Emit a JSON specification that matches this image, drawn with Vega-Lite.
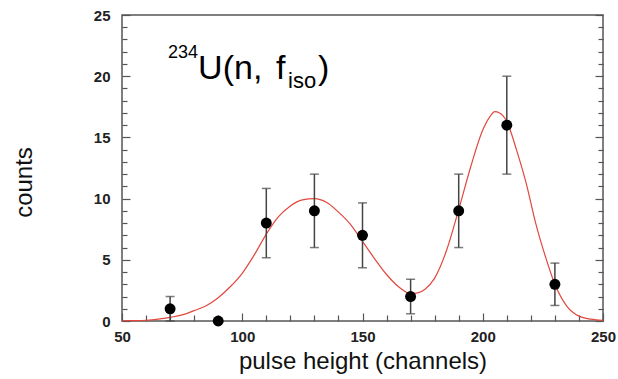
{
  "$schema": "https://vega.github.io/schema/vega-lite/v6.json",
  "width": 481,
  "height": 306,
  "autosize": {"type": "none"},
  "padding": {"left": 122, "top": 15, "right": 15, "bottom": 58},
  "background": "white",
  "config": {
    "view": {"stroke": "#555555", "strokeWidth": 1.5},
    "font": "Liberation Sans",
    "axis": {"domain": false, "grid": false, "tickColor": "#555555", "tickWidth": 1.2, "labelColor": "#222222", "titleColor": "#111111", "labelFont": "Liberation Sans", "titleFont": "Liberation Sans", "titleFontWeight": "normal", "labelFontSize": 15}
  },
  "datasets": {
    "pts": [
      {"ch": 70, "counts": 1, "lo": 0, "hi": 2},
      {"ch": 90, "counts": 0, "lo": 0, "hi": 0},
      {"ch": 110, "counts": 8, "lo": 5.17, "hi": 10.83},
      {"ch": 130, "counts": 9, "lo": 6, "hi": 12},
      {"ch": 150, "counts": 7, "lo": 4.35, "hi": 9.65},
      {"ch": 170, "counts": 2, "lo": 0.59, "hi": 3.41},
      {"ch": 190, "counts": 9, "lo": 6, "hi": 12},
      {"ch": 210, "counts": 16, "lo": 12, "hi": 20},
      {"ch": 230, "counts": 3, "lo": 1.27, "hi": 4.73}
    ],
    "fit": [
      {"ch": 50, "counts": 0.02}, {"ch": 55, "counts": 0.03}, {"ch": 60, "counts": 0.06},
      {"ch": 65, "counts": 0.15}, {"ch": 70, "counts": 0.3}, {"ch": 75, "counts": 0.5},
      {"ch": 80, "counts": 0.85}, {"ch": 85, "counts": 1.25}, {"ch": 90, "counts": 1.9},
      {"ch": 95, "counts": 2.8}, {"ch": 100, "counts": 3.9}, {"ch": 105, "counts": 5.4},
      {"ch": 110, "counts": 7.1}, {"ch": 115, "counts": 8.5}, {"ch": 120, "counts": 9.4},
      {"ch": 125, "counts": 9.9}, {"ch": 130, "counts": 10.0}, {"ch": 135, "counts": 9.7},
      {"ch": 140, "counts": 8.9}, {"ch": 145, "counts": 7.9}, {"ch": 150, "counts": 6.5},
      {"ch": 155, "counts": 5.1}, {"ch": 160, "counts": 3.8}, {"ch": 165, "counts": 2.8},
      {"ch": 170, "counts": 2.25}, {"ch": 173, "counts": 2.3}, {"ch": 176, "counts": 2.6},
      {"ch": 180, "counts": 3.5}, {"ch": 185, "counts": 5.8}, {"ch": 190, "counts": 9.1},
      {"ch": 195, "counts": 12.6}, {"ch": 200, "counts": 15.6}, {"ch": 203, "counts": 16.7},
      {"ch": 205, "counts": 17.1}, {"ch": 207, "counts": 17.0}, {"ch": 210, "counts": 16.3},
      {"ch": 214, "counts": 14.0}, {"ch": 218, "counts": 11.3}, {"ch": 222, "counts": 8.0},
      {"ch": 226, "counts": 5.3}, {"ch": 230, "counts": 3.0}, {"ch": 235, "counts": 1.2},
      {"ch": 240, "counts": 0.4}, {"ch": 245, "counts": 0.15}, {"ch": 250, "counts": 0.05}
    ]
  },
  "resolve": {"axis": {"y": "independent", "x": "independent"}},
  "layer": [
    {
      "data": {"name": "fit"},
      "mark": {"type": "line", "color": "#e2473d", "strokeWidth": 1.2, "interpolate": "monotone"},
      "encoding": {
        "x": {"field": "ch", "type": "quantitative", "scale": {"domain": [50, 250], "nice": false},
          "axis": {"orient": "bottom", "values": [50,60,70,80,90,100,110,120,130,140,150,160,170,180,190,200,210,220,230,240,250],
            "labelExpr": "datum.value % 50 === 0 ? datum.label : ''",
            "tickSize": {"condition": {"test": "datum.value % 50 === 0", "value": -8}, "value": -6},
            "labelPadding": 16, "labelFontSize": 15, "labelFontWeight": "bold", "labelFlush": false,
            "title": "pulse height  (channels)", "titleFontSize": 24, "titlePadding": 5}},
        "y": {"field": "counts", "type": "quantitative", "scale": {"domain": [0, 25], "nice": false},
          "axis": {"orient": "right", "values": [0,1,2,3,4,5,6,7,8,9,10,11,12,13,14,15,16,17,18,19,20,21,22,23,24,25],
            "labels": false, "title": null,
            "tickSize": {"condition": {"test": "datum.value % 5 === 0", "value": -8}, "value": -5}}}
      }
    },
    {
      "data": {"name": "pts"},
      "mark": {"type": "rule", "color": "#444444", "strokeWidth": 1.5},
      "encoding": {
        "x": {"field": "ch", "type": "quantitative", "axis": null},
        "y": {"field": "lo", "type": "quantitative", "axis": null},
        "y2": {"field": "hi"}
      }
    },
    {
      "data": {"name": "pts"},
      "mark": {"type": "tick", "orient": "horizontal", "color": "#444444", "size": 9, "thickness": 1.5},
      "encoding": {
        "x": {"field": "ch", "type": "quantitative", "axis": null},
        "y": {"field": "lo", "type": "quantitative", "axis": null}
      }
    },
    {
      "data": {"name": "pts"},
      "mark": {"type": "tick", "orient": "horizontal", "color": "#444444", "size": 9, "thickness": 1.5},
      "encoding": {
        "x": {"field": "ch", "type": "quantitative", "axis": null},
        "y": {"field": "hi", "type": "quantitative", "axis": null}
      }
    },
    {
      "data": {"name": "pts"},
      "mark": {"type": "circle", "color": "#000000", "opacity": 1, "size": 120, "clip": false},
      "encoding": {
        "x": {"field": "ch", "type": "quantitative", "axis": null},
        "y": {"field": "counts", "type": "quantitative",
          "axis": {"orient": "left", "values": [0,1,2,3,4,5,6,7,8,9,10,11,12,13,14,15,16,17,18,19,20,21,22,23,24,25],
            "labelExpr": "datum.value % 5 === 0 ? datum.label : ''",
            "tickSize": {"condition": {"test": "datum.value % 5 === 0", "value": -8}, "value": -5},
            "labelPadding": 20, "labelFontSize": 15, "labelFontWeight": "bold",
            "title": "counts", "titleFontSize": 24, "titlePadding": 57, "titleY": 167}}
      }
    },
    {
      "data": {"values": [{}]},
      "mark": {"type": "text", "text": "234", "fontSize": 18, "align": "left", "baseline": "alphabetic", "font": "Liberation Sans", "color": "#000000", "dx": -2},
      "encoding": {"x": {"datum": 70, "type": "quantitative", "axis": null}, "y": {"datum": 21.5, "type": "quantitative", "axis": null}}
    },
    {
      "data": {"values": [{}]},
      "mark": {"type": "text", "text": "U(n,", "fontSize": 34, "align": "left", "baseline": "alphabetic", "font": "Liberation Sans", "color": "#000000", "dx": 28},
      "encoding": {"x": {"datum": 70, "type": "quantitative", "axis": null}, "y": {"datum": 19.77, "type": "quantitative", "axis": null}}
    },
    {
      "data": {"values": [{}]},
      "mark": {"type": "text", "text": "f", "fontSize": 34, "align": "left", "baseline": "alphabetic", "font": "Liberation Sans", "color": "#000000", "dx": 106},
      "encoding": {"x": {"datum": 70, "type": "quantitative", "axis": null}, "y": {"datum": 19.77, "type": "quantitative", "axis": null}}
    },
    {
      "data": {"values": [{}]},
      "mark": {"type": "text", "text": "iso", "fontSize": 22, "align": "left", "baseline": "alphabetic", "font": "Liberation Sans", "color": "#000000", "dx": 118},
      "encoding": {"x": {"datum": 70, "type": "quantitative", "axis": null}, "y": {"datum": 19.04, "type": "quantitative", "axis": null}}
    },
    {
      "data": {"values": [{}]},
      "mark": {"type": "text", "text": ")", "fontSize": 34, "align": "left", "baseline": "alphabetic", "font": "Liberation Sans", "color": "#000000", "dx": 148},
      "encoding": {"x": {"datum": 70, "type": "quantitative", "axis": null}, "y": {"datum": 19.77, "type": "quantitative", "axis": null}}
    }
  ]
}
